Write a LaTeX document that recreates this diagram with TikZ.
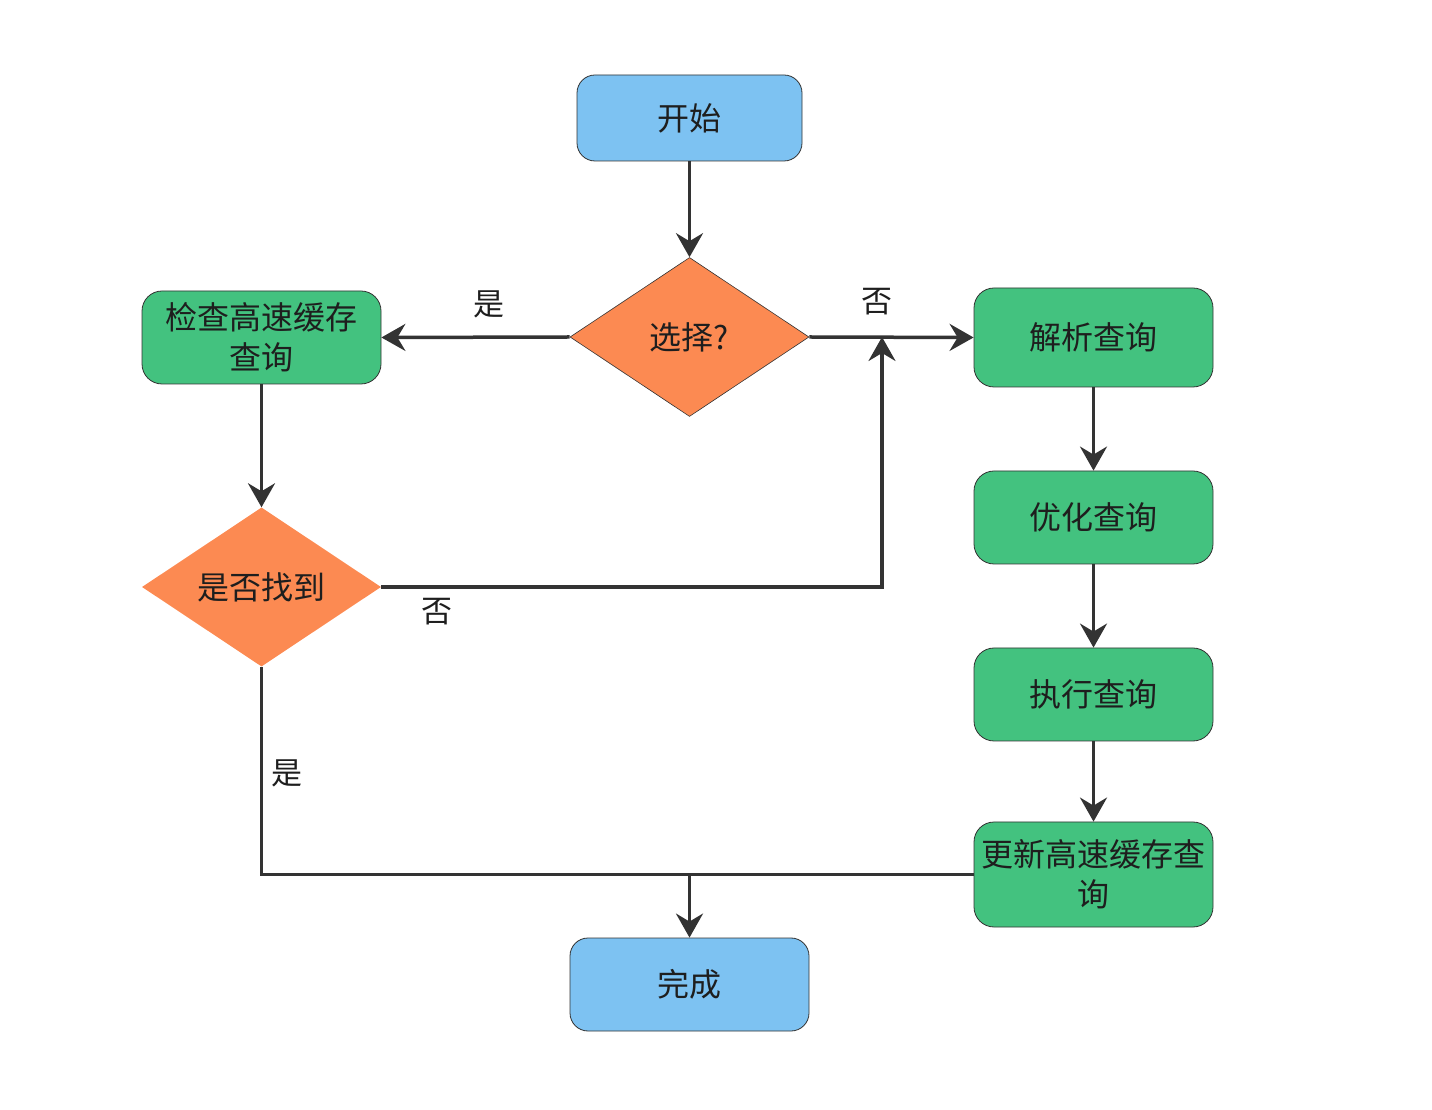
\documentclass[tikz,border=0pt]{standalone}
\usepackage{fontspec}
\setmainfont{Noto Sans CJK SC}
\usepackage{tikz}
\usetikzlibrary{arrows.meta,positioning,shapes.geometric}
\definecolor{FBlue}{HTML}{7DC2F2}
\definecolor{FOrange}{HTML}{FC8A52}
\definecolor{FGreen}{HTML}{43C27F}
\definecolor{FLine}{HTML}{333333}
\definecolor{FText}{HTML}{1E1E1E}

\begin{document}
\begin{tikzpicture}[
  x=1pt,y=1pt,
  every node/.style={font=\fontsize{32}{40}\selectfont,text=FText},
  terminal/.style={draw=FLine,line width=0.8pt,rounded corners=18pt,fill=FBlue,
    minimum width=239pt,minimum height=93pt,align=center,inner sep=0pt},
  process/.style={draw=FLine,line width=0.8pt,rounded corners=20pt,fill=FGreen,
    minimum width=239pt,minimum height=93pt,align=center,inner sep=0pt},
  decision/.style={diamond,fill=FOrange,minimum width=239pt,minimum height=159pt,
    inner sep=0pt,align=center},
  lbl/.style={font=\fontsize{31}{36}\selectfont},
  arr/.style={-{Stealth[length=24pt,width=27pt,inset=8pt]},line width=3.5pt,color=FLine},
  wire/.style={line width=3.5pt,color=FLine}
]
  \useasboundingbox (0,0) rectangle (1432,1109);

  \node[terminal,minimum width=225pt,minimum height=86pt] (start) at (689.5,991) {开始};
  \node[decision,draw=FLine,line width=0.6pt] (choose) at (689.5,772) {选择?};
  \node[process] (checkcache) at (261.5,771.5) {检查高速缓存\\查询};
  \node[decision] (found) at (261.5,522) {是否找到};
  \node[process,minimum height=99pt] (parse) at (1093.5,771.5) {解析查询};
  \node[process] (optimize) at (1093.5,591.5) {优化查询};
  \node[process] (execute) at (1093.5,414.5) {执行查询};
  \node[process,minimum height=105pt] (update) at (1093.5,234.5) {更新高速缓存查\\询};
  \node[terminal] (done) at (689.5,124.5) {完成};

  \coordinate (merge) at (882,772);
  \coordinate (join) at (done.north |- update.west);

  \draw[arr] (start) -- (choose);
  \draw[arr] (choose.west) -- (checkcache.east);
  \node[lbl] (yeschoose) at (489,805) {是};
  \draw[arr] (choose.east) -- (parse.west);
  \node[lbl] (nochoose) at (877,807) {否};
  \draw[arr] (checkcache) -- (found);
  \draw[arr] (found.east) -| (merge);
  \node[lbl] (nofound) at (437,497) {否};
  \draw[arr] (found.south) |- (join) -- (done.north);
  \node[lbl] (yesfound) at (287,336) {是};
  \draw[wire] (update.west) -- (join);
  \draw[arr] (parse) -- (optimize);
  \draw[arr] (optimize) -- (execute);
  \draw[arr] (execute) -- (update);
\end{tikzpicture}
\end{document}
